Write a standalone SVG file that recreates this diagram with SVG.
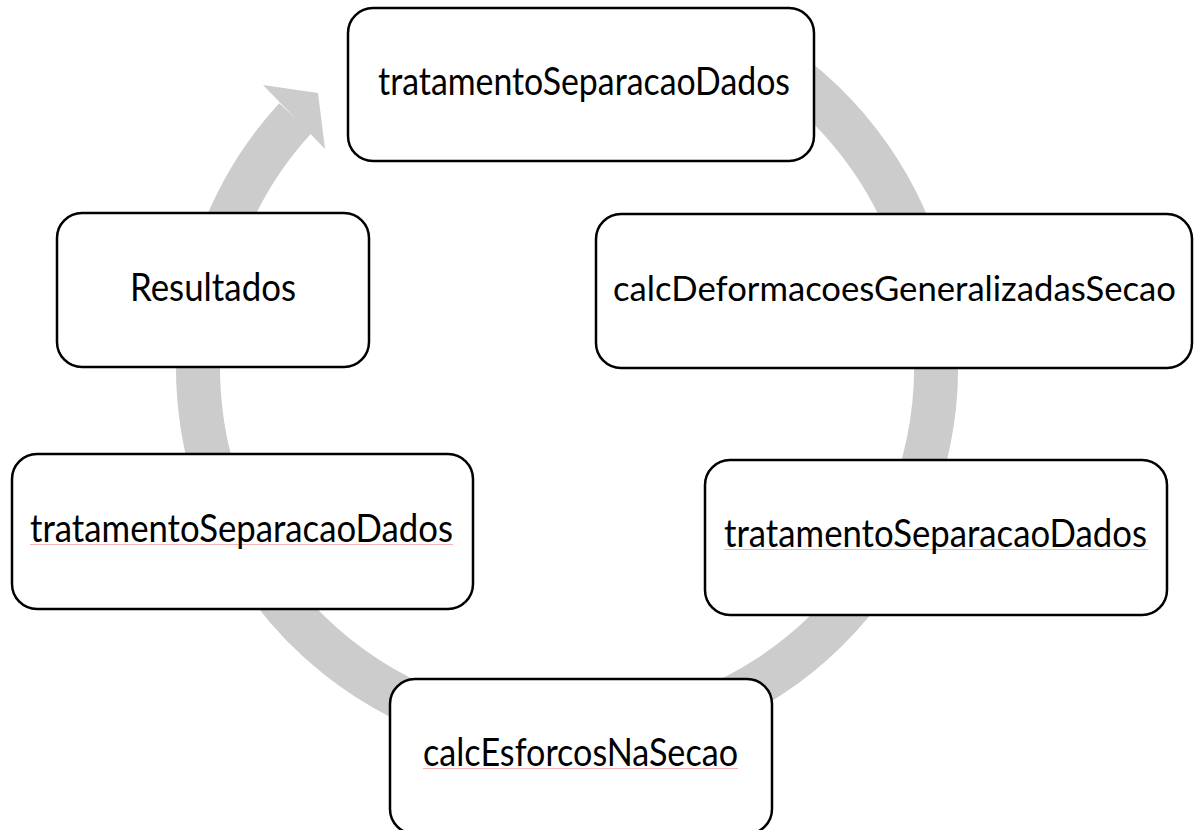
<svg xmlns="http://www.w3.org/2000/svg" width="1197" height="830" viewBox="0 0 1197 830">
  <style>
    .box { fill: #ffffff; stroke: #000000; stroke-width: 2.5; }
    .lbl { font-family: Lato, "Open Sans", "Liberation Sans", sans-serif; font-size: 38px; fill: #000000; text-anchor: start; }
    .lbl-long { font-size: 35px; }
    .ring { fill: none; stroke: #cccccc; stroke-width: 44; stroke-linecap: butt; }
    .head { fill: #cccccc; stroke: none; }
    .spell { stroke: #f5b5b5; stroke-width: 1; }
  </style>
  <rect width="1197" height="830" fill="#ffffff"/>
  <g id="connectors">
    <path class="ring" d="M 751.5 48.4 A 369 369 0 1 1 295.4 118.2"/>
    <polygon class="head" points="263,85 318,93 325,149"/>
  </g>
  <g id="node-top">
    <rect class="box" x="348" y="8" width="466" height="153" rx="25" ry="25"/>
    <text class="lbl" x="378" y="95" textLength="412" lengthAdjust="spacingAndGlyphs">tratamentoSeparacaoDados</text>
  </g>
  <g id="node-deformacoes">
    <rect class="box" x="596" y="214" width="596" height="154" rx="25" ry="25"/>
    <text class="lbl lbl-long" x="613" y="301" textLength="563" lengthAdjust="spacingAndGlyphs">calcDeformacoesGeneralizadasSecao</text>
  </g>
  <g id="node-right-bottom">
    <rect class="box" x="705" y="460" width="462" height="155" rx="25" ry="25"/>
    <line class="spell" x1="724" y1="549.5" x2="1148" y2="549.5"/>
    <text class="lbl" x="724" y="547" textLength="423" lengthAdjust="spacingAndGlyphs">tratamentoSeparacaoDados</text>
  </g>
  <g id="node-bottom">
    <rect class="box" x="390" y="679" width="382" height="155" rx="25" ry="25"/>
    <line class="spell" x1="423" y1="768.5" x2="738" y2="768.5"/>
    <text class="lbl" x="423" y="766" textLength="315" lengthAdjust="spacingAndGlyphs">calcEsforcosNaSecao</text>
  </g>
  <g id="node-left-bottom">
    <rect class="box" x="12" y="454" width="461" height="155" rx="25" ry="25"/>
    <line class="spell" x1="30" y1="544.5" x2="453" y2="544.5"/>
    <text class="lbl" x="30" y="542" textLength="423" lengthAdjust="spacingAndGlyphs">tratamentoSeparacaoDados</text>
  </g>
  <g id="node-resultados">
    <rect class="box" x="57" y="213" width="312" height="154" rx="25" ry="25"/>
    <text class="lbl" x="130" y="301" textLength="166" lengthAdjust="spacingAndGlyphs">Resultados</text>
  </g>
</svg>
